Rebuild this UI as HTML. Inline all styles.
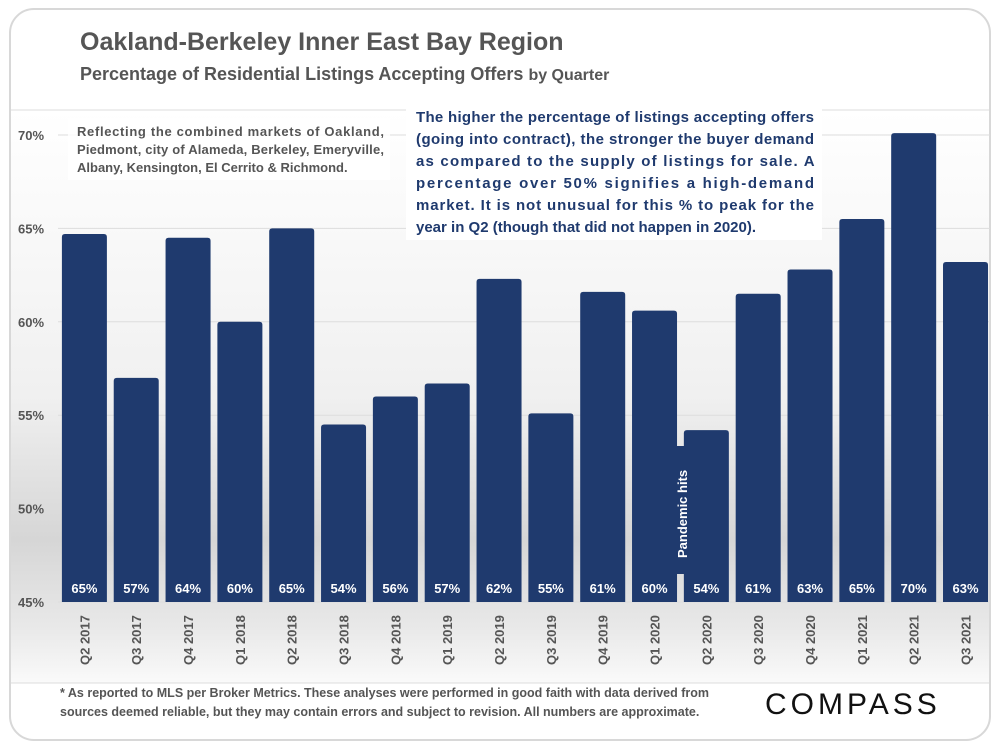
<!DOCTYPE html>
<html><head><meta charset="utf-8"><style>
body{margin:0;width:1000px;height:750px;background:#fff;font-family:"Liberation Sans",sans-serif;overflow:hidden}
svg text{font-family:"Liberation Sans",sans-serif}
</style></head><body>
<svg width="1000" height="750" viewBox="0 0 1000 750">
<defs>
<linearGradient id="bg" x1="0" y1="0" x2="0" y2="1">
<stop offset="0" stop-color="#ffffff"/><stop offset="0.5" stop-color="#f0f0f0"/><stop offset="0.75" stop-color="#d6d6d6"/><stop offset="0.9" stop-color="#e8e8e8"/><stop offset="1" stop-color="#fafafa"/>
</linearGradient>
</defs>
<rect x="10" y="9" width="980" height="731" rx="24" fill="#fff" stroke="#d8d8d8" stroke-width="2"/>
<rect x="11" y="110" width="978" height="573" fill="url(#bg)"/>
<line x1="11" y1="110" x2="989" y2="110" stroke="#ddd"/>
<line x1="11" y1="683" x2="989" y2="683" stroke="#ddd"/>
<text x="80" y="50" font-size="25" font-weight="bold" fill="#555">Oakland-Berkeley Inner East Bay Region</text>
<text x="80" y="80" font-size="18" font-weight="bold" fill="#555">Percentage of Residential Listings Accepting Offers <tspan font-size="16">by Quarter</tspan></text>
<g id="grid"></g>
<g id="bars"></g>
<g id="ylab"></g>
<g id="xlab"></g>
<rect x="68" y="118" width="322" height="62" fill="#fff" opacity="0.85"/>
<text font-size="13" font-weight="bold" fill="#555">
<tspan x="77" y="136" textLength="307">Reflecting the combined markets of Oakland,</tspan>
<tspan x="77" y="154" textLength="307">Piedmont, city of Alameda, Berkeley, Emeryville,</tspan>
<tspan x="77" y="172">Albany, Kensington, El Cerrito &amp; Richmond.</tspan></text>
<rect x="406" y="104" width="416" height="136" fill="#fff"/>
<text font-size="15" font-weight="bold" fill="#1f3a6e">
<tspan x="416" y="122" textLength="398">The higher the percentage of listings accepting offers</tspan>
<tspan x="416" y="144" textLength="398">(going into contract), the stronger the buyer demand</tspan>
<tspan x="416" y="166" textLength="398">as compared to the supply of listings for sale. A</tspan>
<tspan x="416" y="188" textLength="398">percentage over 50% signifies a high-demand</tspan>
<tspan x="416" y="210" textLength="398">market. It is not unusual for this % to peak for the</tspan>
<tspan x="416" y="232">year in Q2 (though that did not happen in 2020).</tspan></text>
<rect x="668" y="446" width="28" height="128" fill="#1f3a6e"/>
<text transform="translate(687,558) rotate(-90)" font-size="13" font-weight="bold" fill="#fff">Pandemic hits</text>
<text x="60" y="697" font-size="12.5" font-weight="bold" fill="#555"><tspan x="60" y="697">* As reported to MLS per Broker Metrics. These analyses were performed in good faith with data derived from</tspan><tspan x="60" y="716">sources deemed reliable, but they may contain errors and subject to revision. All numbers are approximate.</tspan></text>
<text x="765" y="714" font-size="30" fill="#111" letter-spacing="4">COMPASS</text>
</svg>
<script>
const categories=["Q2 2017","Q3 2017","Q4 2017","Q1 2018","Q2 2018","Q3 2018","Q4 2018","Q1 2019","Q2 2019","Q3 2019","Q4 2019","Q1 2020","Q2 2020","Q3 2020","Q4 2020","Q1 2021","Q2 2021","Q3 2021"];
const values=[64.7,57.0,64.5,60.0,65.0,54.5,56.0,56.7,62.3,55.1,61.6,60.6,54.2,61.5,62.8,65.5,70.1,63.2];
const valueLabels=["65%","57%","64%","60%","65%","54%","56%","57%","62%","55%","61%","60%","54%","61%","63%","65%","70%","63%"];
const yTicks=[45,50,55,60,65,70];
const NS="http://www.w3.org/2000/svg";
const yMin=45,yMax=70,yB=602,yT=135;
const y=v=>yB-(v-yMin)/(yMax-yMin)*(yB-yT);
const x0=84.4,step=51.83,bw=45;
const x=i=>x0+i*step;
function mk(t,a,p){const e=document.createElementNS(NS,t);for(const k in a)e.setAttribute(k,a[k]);p.appendChild(e);return e;}
const grid=document.getElementById('grid'),ylab=document.getElementById('ylab'),bars=document.getElementById('bars'),xlab=document.getElementById('xlab');
yTicks.forEach(t=>{
 const l=mk('line',{x1:58,x2:990,y1:y(t),y2:y(t),stroke:'#ddd'},grid);
 
 
 const tx=mk('text',{x:18,y:y(t)+5,'font-size':13,'font-weight':'bold',fill:'#555'},ylab);
 tx.textContent=t+'%';
 
 
});
categories.forEach((c,i)=>{
 const top=y(values[i]);
 const r=mk('path',{d:`M${x(i)-bw/2},${yB}V${top+3}q0,-3 3,-3h${bw-6}q3,0 3,3V${yB}Z`,fill:'#1f3a6e'},bars);
 
 
 const v=mk('text',{x:x(i),y:593,'font-size':13,'font-weight':'bold',fill:'#fff','text-anchor':'middle'},bars);
 v.textContent=valueLabels[i];
 
 
 const xl=mk('text',{transform:`translate(${x(i)+5},665) rotate(-90)`,'font-size':13,'font-weight':'bold',fill:'#555'},xlab);
 xl.textContent=c;
 
 
});
</script>
</body></html>
